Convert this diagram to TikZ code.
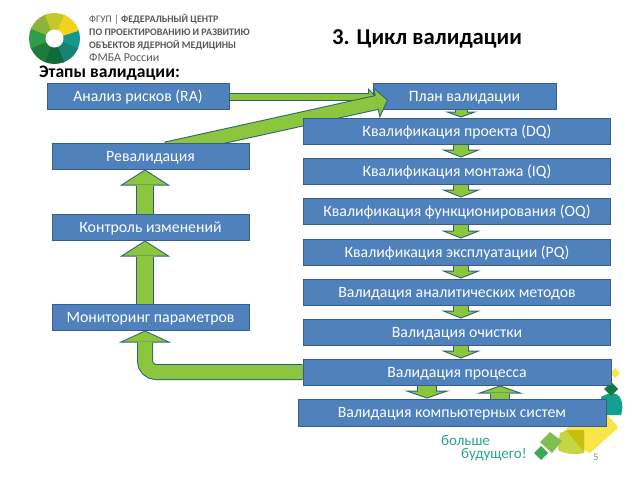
\documentclass[tikz,border=0pt]{standalone}
\usepackage{fontspec}
\usepackage{xcolor}
\setmainfont{Carlito}
\usetikzlibrary{arrows.meta}
\definecolor{boxblue}{HTML}{4F81BD}
\definecolor{boxedge}{HTML}{385D8A}
\definecolor{arrowgreen}{HTML}{8CC63F}
\definecolor{arrowedge}{HTML}{2F6271}
\definecolor{logogray}{HTML}{595959}
\definecolor{sloganteal}{HTML}{2BA58E}
\pgfdeclarelayer{background}
\pgfsetlayers{background,main}
\tikzset{
  stagebox/.style={draw=boxedge,fill=boxblue,line width=1pt,text=white,inner sep=0pt,
    minimum height=26pt,text height=11pt,text depth=1pt,font=\fontsize{15.8}{15.8}\selectfont},
  logoline/.style={anchor=west,inner sep=0pt,text=logogray,font=\fontsize{10}{10}\selectfont},
  blockarrow/.style n args={7}{draw=arrowgreen,line width=#4pt,shorten >=#7pt,
    -{Triangle[length=#6pt,width=#5pt,line width=0pt,fill=arrowgreen,color=arrowgreen]},
    preaction={draw=arrowedge,line width=#1pt,shorten >=0pt,
      -{Triangle[length=#3pt,width=#2pt,line width=0pt,fill=arrowedge,color=arrowedge]}}},
  smallarrow/.style={blockarrow={13}{33}{6}{11}{21.5}{3.9}{1.1}},
  chainarrow/.style={blockarrow={16}{40}{8}{14}{29.5}{5.9}{1.1}},
  widearrow/.style={blockarrow={20}{46}{8}{18}{34}{5.9}{1.1}},
  bigarrow/.style={blockarrow={18}{50}{16}{16}{43}{13.8}{1.2}},
  thinarrow/.style={blockarrow={8}{17}{8}{6}{11.9}{5.6}{1.4}},
  diagarrow/.style={blockarrow={15}{32}{12}{13}{25.8}{9.75}{1.25}},
  bendarrow/.style={rounded corners=11pt,blockarrow={16}{52}{12}{14}{43}{9.9}{1.1}},
}
\begin{document}
\begin{tikzpicture}[x=1pt,y=-1pt]
    \useasboundingbox (0,0) rectangle (638,479);

    % logo
    \coordinate (logoc) at (54.5,38.5);
    \begin{scope}
        \clip (logoc) circle (25.5);
        \foreach \ang/\col in {0/13988A,45/178376,90/0E6B3A,135/1F7A3C,180/2E9E48,225/8DB33B,270/C4C92A,315/F2D21D} {
            \definecolor{wedge}{HTML}{\col}
            \fill[wedge] (logoc) -- ++(\ang-22.5:40) -- ++(\ang+112.5:30.6) -- cycle;
        }
    \end{scope}
    \fill[white] (logoc) circle (9);
    \node[logoline] (logo1) at (89,19) {ФГУП | \textbf{ФЕДЕРАЛЬНЫЙ ЦЕНТР}};
    \node[logoline] (logo2) at (89,32) {\textbf{ПО ПРОЕКТИРОВАНИЮ И РАЗВИТИЮ}};
    \node[logoline] (logo3) at (89,45) {\textbf{ОБЪЕКТОВ ЯДЕРНОЙ МЕДИЦИНЫ}};
    \node[logoline,font=\fontsize{12}{12}\selectfont] (logo4) at (89,58) {ФМБА России};

    \node[anchor=west,inner sep=0pt,font=\fontsize{22.7}{22.7}\selectfont\bfseries] (title) at (332,39) {3. Цикл валидации};
    \node[anchor=west,inner sep=0pt,font=\fontsize{17.6}{17.6}\selectfont\bfseries] (stages) at (39,73) {Этапы валидации:};

    \node[stagebox,minimum width=182pt] (ra) at (138,96.5) {Анализ рисков (RA)};
    \node[stagebox,minimum width=197pt] (reval) at (150.5,156) {Ревалидация};
    \node[stagebox,minimum width=197pt] (ctrl) at (150.5,227) {Контроль изменений};
    \node[stagebox,minimum width=197pt] (mon) at (150.5,317) {Мониторинг параметров};

    \node[stagebox,minimum width=307pt] (dq) at (457,131) {Квалификация проекта (DQ)};
    \node[stagebox,minimum width=307pt] (iq) at (457,171) {Квалификация монтажа (IQ)};
    \node[stagebox,minimum width=307pt] (oq) at (457,211) {Квалификация функционирования (OQ)};
    \node[stagebox,minimum width=307pt] (pq) at (457,252) {Квалификация эксплуатации (PQ)};
    \node[stagebox,minimum width=307pt] (methods) at (457,292) {Валидация аналитических методов};
    \node[stagebox,minimum width=307pt] (clean) at (457,332) {Валидация очистки};
    \node[stagebox,minimum width=308pt] (proc) at (457,372) {Валидация процесса};
    \node[stagebox,minimum width=308pt,minimum height=27pt] (comp) at (452,412.5) {Валидация компьютерных систем};

    \coordinate (rightaxis) at (461,0);
    \coordinate (leftaxis) at (145,0);
    \coordinate (downaxis) at (427,0);
    \coordinate (upaxis) at (500,0);
    \coordinate (ratip) at (376,96.5);
    \coordinate (revtail) at (166,149);
    \coordinate (plantip) at (388,100);

    \begin{pgfonlayer}{background}
        % corner ornament
        \definecolor{ornyellow}{HTML}{F9E547}
        \definecolor{ornolive}{HTML}{C5D645}
        \definecolor{ornmix}{HTML}{C8BE10}
        \definecolor{orngreen}{HTML}{7FBF4F}
        \definecolor{orndark}{HTML}{3EA655}
        \definecolor{ornteal}{HTML}{13A090}
        \definecolor{ornpine}{HTML}{0E7A3E}
        \fill[ornyellow] (615,368) -- (620,373) -- (615,378) -- (610,373) -- cycle;
        \fill[ornteal] (601,397) .. controls (610,392) and (616,392) .. (620,397) .. controls (623,403) and (623,410) .. (621,415) -- (603,415) -- cycle;
        \fill[ornpine] (611,382) -- (618,389) -- (611,396) -- (604,389) -- cycle;
        \fill[ornyellow] (566,428) -- (607,415) .. controls (612,419) and (616,424) .. (618,428) -- (590,453) -- (584,450) -- cycle;
        \fill[ornolive] (567,430) -- (584,430) -- (584,453) .. controls (574,455) and (565,454) .. (558,450) .. controls (558,444) and (559,438) .. (560,433) -- cycle;
        \fill[ornmix] (566,430) -- (584,430) -- (584,452) -- cycle;
        \fill[orngreen] (550,432) -- (562,441) -- (552,453) -- (540,442) -- cycle;
        \fill[orndark] (541,446) -- (548,453) -- (541,460) -- (534,453) -- cycle;

        \node[stagebox,minimum width=183pt] (plan) at (464.5,96.5) {План валидации};

        \draw[thinarrow] (ra.east) -- (ratip);
        \draw[diagarrow] (revtail) -- (plantip);
        \draw[bigarrow] (ctrl.north -| leftaxis) -- (reval.south -| leftaxis);
        \draw[bigarrow] (mon.north -| leftaxis) -- (ctrl.south -| leftaxis);
        \draw[bendarrow] (proc.west) -| (mon.south -| leftaxis);

        \draw[smallarrow] (plan.south -| rightaxis) -- (dq.north -| rightaxis);
        \draw[chainarrow] (dq.south -| rightaxis) -- (iq.north -| rightaxis);
        \draw[chainarrow] (iq.south -| rightaxis) -- (oq.north -| rightaxis);
        \draw[chainarrow] (oq.south -| rightaxis) -- (pq.north -| rightaxis);
        \draw[chainarrow] (pq.south -| rightaxis) -- (methods.north -| rightaxis);
        \draw[chainarrow] (methods.south -| rightaxis) -- (clean.north -| rightaxis);
        \draw[chainarrow] (clean.south -| rightaxis) -- (proc.north -| rightaxis);
        \draw[widearrow] (proc.south -| downaxis) -- (comp.north -| downaxis);
        \draw[widearrow] (comp.north -| upaxis) -- (proc.south -| upaxis);
    \end{pgfonlayer}

    \node[anchor=west,inner sep=0pt,text=sloganteal,font=\fontsize{15}{15}\selectfont] (slogan1) at (441,440) {больше};
    \node[anchor=west,inner sep=0pt,text=sloganteal,font=\fontsize{15}{15}\selectfont] (slogan2) at (461,454.5) {будущего!};
    \node[inner sep=0pt,text=gray,font=\fontsize{10}{10}\selectfont] (pagenum) at (596,457) {5};
\end{tikzpicture}
\end{document}
